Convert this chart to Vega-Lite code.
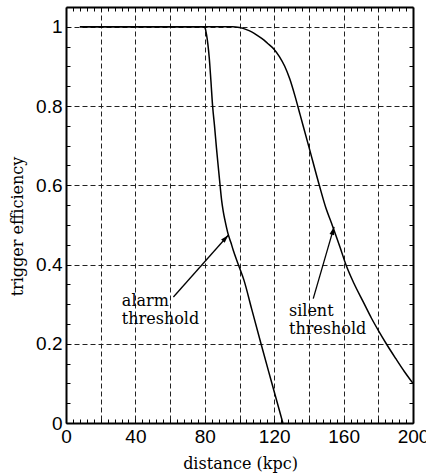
{
  "$schema": "https://vega.github.io/schema/vega-lite/v6.json",
  "width": 347,
  "height": 416,
  "autosize": {"type": "none"},
  "padding": {"left": 66, "top": 7, "right": 13, "bottom": 53},
  "background": "white",
  "config": {"view": {"stroke": null}, "font": "DejaVu Serif"},
  "datasets": {
    "alarm": [
      {"x": 8, "y": 1}, {"x": 79.5, "y": 1}, {"x": 80.3, "y": 0.995}, {"x": 81, "y": 0.98},
      {"x": 81.8, "y": 0.955}, {"x": 82.6, "y": 0.92}, {"x": 83.5, "y": 0.865}, {"x": 84.5, "y": 0.8},
      {"x": 85.6, "y": 0.75}, {"x": 86.7, "y": 0.695}, {"x": 87.8, "y": 0.645}, {"x": 88.8, "y": 0.6},
      {"x": 89.7, "y": 0.562}, {"x": 90.6, "y": 0.535}, {"x": 91.6, "y": 0.512}, {"x": 92.6, "y": 0.492},
      {"x": 93.5, "y": 0.476}, {"x": 95, "y": 0.456}, {"x": 96.4, "y": 0.436}, {"x": 99.3, "y": 0.4},
      {"x": 102.6, "y": 0.36}, {"x": 107, "y": 0.288}, {"x": 112.4, "y": 0.2}, {"x": 118.5, "y": 0.103},
      {"x": 125, "y": 0}
    ],
    "silent": [
      {"x": 8, "y": 1}, {"x": 96, "y": 1}, {"x": 100, "y": 0.998}, {"x": 104, "y": 0.993},
      {"x": 107, "y": 0.987}, {"x": 110, "y": 0.979}, {"x": 113, "y": 0.97}, {"x": 116, "y": 0.959},
      {"x": 120, "y": 0.943}, {"x": 123, "y": 0.925}, {"x": 126, "y": 0.901}, {"x": 129, "y": 0.868},
      {"x": 132, "y": 0.825}, {"x": 135, "y": 0.777}, {"x": 140, "y": 0.697}, {"x": 146, "y": 0.6},
      {"x": 150, "y": 0.54}, {"x": 153, "y": 0.505}, {"x": 155, "y": 0.48}, {"x": 158, "y": 0.443},
      {"x": 161.3, "y": 0.4}, {"x": 166, "y": 0.352}, {"x": 171.4, "y": 0.305}, {"x": 176, "y": 0.265},
      {"x": 180.5, "y": 0.23}, {"x": 184.6, "y": 0.2}, {"x": 190, "y": 0.163}, {"x": 195, "y": 0.13},
      {"x": 200, "y": 0.1}
    ],
    "arrows": [
      {"name": "alarm", "x": 61.9, "y": 0.318, "x2": 93.5, "y2": 0.474},
      {"name": "silent", "x": 142.5, "y": 0.314, "x2": 154.5, "y2": 0.495}
    ],
    "labels": [
      {"x": 32.2, "y": 0.2965, "t": "alarm\nthreshold"},
      {"x": 128.5, "y": 0.2694, "t": "silent\nthreshold"}
    ]
  },
  "layer": [
    {
      "data": {"name": "alarm"},
      "mark": {"type": "line", "color": "black", "strokeWidth": 1.5, "interpolate": "monotone"},
      "encoding": {
        "x": {
          "field": "x", "type": "quantitative",
          "scale": {"domain": [0, 200], "nice": false, "zero": false},
          "axis": {
            "orient": "bottom",
            "values": [0,4,8,12,16,20,24,28,32,36,40,44,48,52,56,60,64,68,72,76,80,84,88,92,96,100,104,108,112,116,120,124,128,132,136,140,144,148,152,156,160,164,168,172,176,180,184,188,192,196,200],
            "labelExpr": "datum.value % 40 === 0 ? format(datum.value, 'd') : ''",
            "labelOverlap": false, "labelFlush": false, "labelBound": false,
            "labelFont": "Liberation Sans", "labelFontSize": 19, "labelColor": "black", "labelPadding": 8,
            "grid": true,
            "gridOpacity": {"condition": {"test": "datum.value % 20 === 0 && datum.value > 0 && datum.value < 200", "value": 1}, "value": 0},
            "gridDash": [5, 3], "gridColor": "#222", "gridWidth": 1,
            "tickSize": -4, "tickColor": "black", "tickWidth": 1,
            "domainColor": "black", "domainWidth": 2,
            "title": "distance (kpc)", "titleFont": "DejaVu Serif", "titleFontSize": 16,
            "titleFontWeight": "normal", "titleColor": "black",
            "titleX": 174, "titleY": 45.5, "titleBaseline": "alphabetic", "titleAlign": "center"
          }
        },
        "y": {
          "field": "y", "type": "quantitative",
          "scale": {"domain": [0, 1.05], "nice": false, "zero": false},
          "axis": {
            "orient": "left",
            "values": [0,0.05,0.1,0.15,0.2,0.25,0.3,0.35,0.4,0.45,0.5,0.55,0.6,0.65,0.7,0.75,0.8,0.85,0.9,0.95,1],
            "labelExpr": "round(datum.value*20) % 4 === 0 ? format(datum.value, '~g') : ''",
            "labelOverlap": false, "labelFlush": false, "labelBound": false,
            "labelFont": "Liberation Sans", "labelFontSize": 19, "labelColor": "black", "labelPadding": 8,
            "grid": true,
            "gridOpacity": {"condition": {"test": "round(datum.value*20) % 4 === 0 && datum.value > 0", "value": 1}, "value": 0},
            "gridDash": [5, 3], "gridColor": "#222", "gridWidth": 1,
            "tickSize": -4, "tickColor": "black", "tickWidth": 1,
            "domainColor": "black", "domainWidth": 2,
            "title": "trigger efficiency", "titleFont": "DejaVu Serif", "titleFontSize": 16,
            "titleFontWeight": "normal", "titleColor": "black",
            "titleX": -44, "titleY": 219, "titleBaseline": "alphabetic", "titleAlign": "center", "titleAngle": -90
          }
        }
      }
    },
    {
      "data": {"name": "silent"},
      "mark": {"type": "line", "color": "black", "strokeWidth": 1.5, "interpolate": "monotone"},
      "encoding": {
        "x": {
          "field": "x", "type": "quantitative",
          "axis": {
            "orient": "top",
            "values": [0,4,8,12,16,20,24,28,32,36,40,44,48,52,56,60,64,68,72,76,80,84,88,92,96,100,104,108,112,116,120,124,128,132,136,140,144,148,152,156,160,164,168,172,176,180,184,188,192,196,200],
            "labels": false, "grid": false,
            "tickSize": -4, "tickColor": "black", "tickWidth": 1,
            "domainColor": "black", "domainWidth": 2, "title": null
          }
        },
        "y": {
          "field": "y", "type": "quantitative",
          "axis": {
            "orient": "right",
            "values": [0,0.05,0.1,0.15,0.2,0.25,0.3,0.35,0.4,0.45,0.5,0.55,0.6,0.65,0.7,0.75,0.8,0.85,0.9,0.95,1],
            "labels": false, "grid": false,
            "tickSize": -4, "tickColor": "black", "tickWidth": 1,
            "domainColor": "black", "domainWidth": 2, "title": null
          }
        }
      }
    },
    {
      "data": {"name": "arrows"},
      "mark": {"type": "rule", "color": "black", "strokeWidth": 1.3},
      "encoding": {
        "x": {"field": "x", "type": "quantitative", "axis": null},
        "y": {"field": "y", "type": "quantitative", "axis": null},
        "x2": {"field": "x2"},
        "y2": {"field": "y2"}
      }
    },
    {
      "data": {"name": "arrows"},
      "transform": [{"filter": "datum.name === 'alarm'"}],
      "mark": {"type": "point", "shape": "M0,0L-0.6,2L0.6,2Z", "filled": true, "color": "black", "opacity": 1, "size": 64, "angle": 41.7},
      "encoding": {
        "x": {"field": "x2", "type": "quantitative", "axis": null},
        "y": {"field": "y2", "type": "quantitative", "axis": null}
      }
    },
    {
      "data": {"name": "arrows"},
      "transform": [{"filter": "datum.name === 'silent'"}],
      "mark": {"type": "point", "shape": "M0,0L-0.6,2L0.6,2Z", "filled": true, "color": "black", "opacity": 1, "size": 64, "angle": 16.1},
      "encoding": {
        "x": {"field": "x2", "type": "quantitative", "axis": null},
        "y": {"field": "y2", "type": "quantitative", "axis": null}
      }
    },
    {
      "data": {"name": "labels"},
      "mark": {"type": "text", "align": "left", "baseline": "alphabetic", "font": "DejaVu Serif", "fontSize": 16, "lineBreak": "\n", "lineHeight": 18, "color": "black"},
      "encoding": {
        "x": {"field": "x", "type": "quantitative", "axis": null},
        "y": {"field": "y", "type": "quantitative", "axis": null},
        "text": {"field": "t"}
      }
    }
  ],
  "resolve": {"axis": {"x": "independent", "y": "independent"}}
}
